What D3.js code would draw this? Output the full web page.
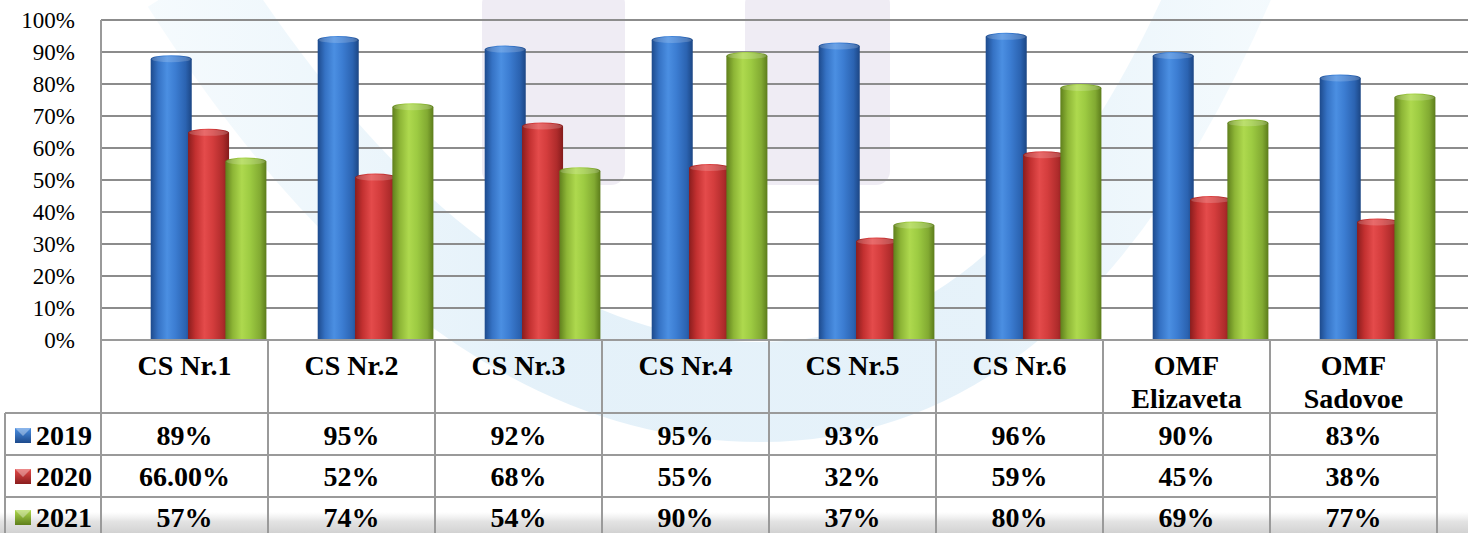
<!DOCTYPE html>
<html>
<head>
<meta charset="utf-8">
<script src="https://cdn.jsdelivr.net/npm/d3@7"></script>
<style>
  html, body { margin: 0; padding: 0; background: #ffffff; }
  svg { display: block; }
  svg text { font-family: "Liberation Serif", "Tinos", "Times New Roman", "Nimbus Roman", "Nimbus Roman No9 L", "FreeSerif", "Noto Serif", "DejaVu Serif", serif; }
</style>
</head>
<body>
<svg id="chart" width="1468" height="533"></svg>
<script>
// ---------- data ----------
const categories = ["CS Nr.1", "CS Nr.2", "CS Nr.3", "CS Nr.4", "CS Nr.5", "CS Nr.6", "OMF\nElizaveta", "OMF\nSadovoe"];
const years = ["2019", "2020", "2021"];
const values2019 = [89, 95, 92, 95, 93, 96, 90, 83];
const values2020 = [66, 52, 68, 55, 32, 59, 45, 38];
const values2021 = [57, 74, 54, 90, 37, 80, 69, 77];
const labels2019 = ["89%", "95%", "92%", "95%", "93%", "96%", "90%", "83%"];
const labels2020 = ["66.00%", "52%", "68%", "55%", "32%", "59%", "45%", "38%"];
const labels2021 = ["57%", "74%", "54%", "90%", "37%", "80%", "69%", "77%"];
const yTicks = [0, 10, 20, 30, 40, 50, 60, 70, 80, 90, 100];

const seriesValues = [values2019, values2020, values2021];
const seriesLabels = [labels2019, labels2020, labels2021];

// ---------- layout ----------
const W = 1468, H = 533;
const plotLeft = 101, plotRight = 1468, tableRight = 1437;
const plotTop = 20, plotBottom = 340;
const rowTops = [413, 455, 497];
const rowBaselines = [445, 486, 527];

const svg = d3.select("#chart");
const defs = svg.append("defs");

const palettes = {
  "2019": ["#1d4a8c", "#3572c4", "#4b8fe2", "#3c7dd2", "#2b63b1", "#1c4684"],
  "2020": ["#8a1d1d", "#c23030", "#e44b4b", "#d43d3d", "#ae2b2b", "#841b1b"],
  "2021": ["#5f7f1c", "#8db536", "#aed94e", "#9dcb42", "#82aa32", "#5c7c1b"]
};
const stops = [0, 0.18, 0.4, 0.6, 0.85, 1];
years.forEach(yr => {
  const g = defs.append("linearGradient").attr("id", "bar" + yr)
    .attr("x1", 0).attr("x2", 1).attr("y1", 0).attr("y2", 0);
  palettes[yr].forEach((c, i) => g.append("stop").attr("offset", stops[i]).attr("stop-color", c));
  const k = defs.append("linearGradient").attr("id", "key" + yr)
    .attr("x1", 0).attr("x2", 0).attr("y1", 0).attr("y2", 1);
  k.append("stop").attr("offset", 0).attr("stop-color", palettes[yr][2]);
  k.append("stop").attr("offset", 1).attr("stop-color", palettes[yr][0]);
});
const bottomShade = defs.append("linearGradient").attr("id", "bottomShade")
  .attr("x1", 0).attr("x2", 0).attr("y1", 0).attr("y2", 1);
bottomShade.append("stop").attr("offset", 0).attr("stop-color", "#e8e8e8").attr("stop-opacity", 0);
bottomShade.append("stop").attr("offset", 0.45).attr("stop-color", "#e0e0e0").attr("stop-opacity", 0.9);
bottomShade.append("stop").attr("offset", 1).attr("stop-color", "#d2d2d2").attr("stop-opacity", 1);

const armFade = defs.append("linearGradient").attr("id", "armFade")
  .attr("gradientUnits", "userSpaceOnUse").attr("x1", 150).attr("y1", 0).attr("x2", 1250).attr("y2", 0);
armFade.append("stop").attr("offset", 0).attr("stop-color", "#d6ecf8").attr("stop-opacity", 0.35);
armFade.append("stop").attr("offset", 0.35).attr("stop-color", "#cfe6f5").attr("stop-opacity", 0.8);
armFade.append("stop").attr("offset", 0.75).attr("stop-color", "#cfe6f5").attr("stop-opacity", 0.75);
armFade.append("stop").attr("offset", 1).attr("stop-color", "#d6ecf8").attr("stop-opacity", 0.4);

// ---------- faint background watermark ----------
const wm = svg.append("g").attr("class", "watermark");
wm.append("rect").attr("x", 482).attr("y", -10).attr("width", 143).attr("height", 195).attr("rx", 14)
  .attr("fill", "#e4e0ec").attr("opacity", 0.6);
wm.append("rect").attr("x", 745).attr("y", -10).attr("width", 145).attr("height", 195).attr("rx", 14)
  .attr("fill", "#e4e0ec").attr("opacity", 0.6);
wm.append("path")
  .attr("d", "M 190,-20 C 330,200 520,392 760,392 C 990,392 1130,200 1225,-20")
  .attr("fill", "none").attr("stroke", "url(#armFade)").attr("stroke-width", 100).attr("opacity", 0.7);

// ---------- scales ----------
const y = d3.scaleLinear().domain([0, 100]).range([plotBottom, plotTop]);
const x = d3.scaleBand().domain(categories).range([plotLeft, tableRight]);
const xs = d3.scaleBand().domain(years).range([49.7, 161.7]);
const barW = xs.bandwidth() + 3.7;

// ---------- gridlines ----------
svg.append("g").selectAll("line").data(yTicks).join("line")
  .attr("x1", plotLeft).attr("x2", plotRight)
  .attr("y1", d => y(d)).attr("y2", d => y(d))
  .attr("stroke", "#8c8c8c").attr("stroke-width", 2);

// ---------- y axis labels ----------
const yAxis = d3.axisLeft(y).tickValues(yTicks).tickFormat(d => d + "%").tickSize(0).tickPadding(26);
const ya = svg.append("g").attr("transform", `translate(${plotLeft},0)`).call(yAxis);
ya.attr("font-family", null);
ya.select(".domain").remove();
ya.selectAll("text").attr("font-size", 23).attr("fill", "#000");

// ---------- bars ----------
const capRy = 4;
years.forEach((yr, si) => {
  const g = svg.append("g").attr("class", "series-" + yr);
  const data = categories.map((c, i) => ({ c, v: seriesValues[si][i] }));
  g.selectAll("rect").data(data).join("rect")
    .attr("x", d => x(d.c) + xs(yr))
    .attr("y", d => y(d.v) + capRy)
    .attr("width", barW)
    .attr("height", d => plotBottom - y(d.v) - capRy)
    .attr("fill", `url(#bar${yr})`);
  g.selectAll("ellipse.cap").data(data).join("ellipse").attr("class", "cap")
    .attr("cx", d => x(d.c) + xs(yr) + barW / 2)
    .attr("cy", d => y(d.v) + capRy)
    .attr("rx", barW / 2).attr("ry", capRy)
    .attr("fill", `url(#bar${yr})`);
  g.selectAll("ellipse.hl").data(data).join("ellipse").attr("class", "hl")
    .attr("cx", d => x(d.c) + xs(yr) + barW / 2)
    .attr("cy", d => y(d.v) + capRy)
    .attr("rx", barW / 2 - 1).attr("ry", capRy - 1)
    .attr("fill", "#ffffff").attr("opacity", 0.18);
});

// ---------- bottom shading ----------
svg.append("rect").attr("x", 0).attr("y", 512).attr("width", W).attr("height", 21)
  .attr("fill", "url(#bottomShade)");

// ---------- table lines ----------
const lines = svg.append("g").attr("stroke", "#9a9a9a").attr("stroke-width", 2);
lines.append("line").attr("x1", plotLeft).attr("x2", plotLeft).attr("y1", plotTop).attr("y2", H);
lines.append("line").attr("x1", plotLeft).attr("x2", plotRight).attr("y1", plotBottom).attr("y2", plotBottom);
lines.selectAll("line.col").data(categories).join("line").attr("class", "col")
  .attr("x1", d => x(d) + x.bandwidth()).attr("x2", d => x(d) + x.bandwidth())
  .attr("y1", plotBottom).attr("y2", H);
lines.selectAll("line.row").data(rowTops).join("line").attr("class", "row")
  .attr("x1", 5).attr("x2", tableRight).attr("y1", d => d).attr("y2", d => d);
lines.append("line").attr("x1", 5).attr("x2", 5).attr("y1", rowTops[0]).attr("y2", H);

// ---------- category labels ----------
const catG = svg.append("g").attr("font-size", 28)
  .attr("font-weight", "bold").attr("text-anchor", "middle").attr("fill", "#000");
categories.forEach(c => {
  const t = catG.append("text").attr("x", x(c) + x.bandwidth() / 2).attr("y", 375);
  c.split("\n").forEach((ln, i) => {
    t.append("tspan").attr("x", x(c) + x.bandwidth() / 2).attr("dy", i === 0 ? 0 : 33).text(ln);
  });
});

// ---------- data rows ----------
years.forEach((yr, si) => {
  const rg = svg.append("g").attr("font-size", 28)
    .attr("font-weight", "bold").attr("fill", "#000");
  rg.selectAll("text.val").data(categories).join("text").attr("class", "val")
    .attr("x", d => x(d) + x.bandwidth() / 2).attr("y", rowBaselines[si])
    .attr("text-anchor", "middle")
    .text((d, i) => seriesLabels[si][i]);
  const ky = rowBaselines[si] - 17;
  rg.append("rect").attr("x", 15).attr("y", ky).attr("width", 16).attr("height", 15)
    .attr("fill", `url(#key${yr})`);
  rg.append("path").attr("d", `M15,${ky} L31,${ky} L23,${ky + 8} Z`)
    .attr("fill", "#ffffff").attr("opacity", 0.35);
  rg.append("text").attr("x", 36).attr("y", rowBaselines[si]).text(yr);
});
</script>
</body>
</html>
